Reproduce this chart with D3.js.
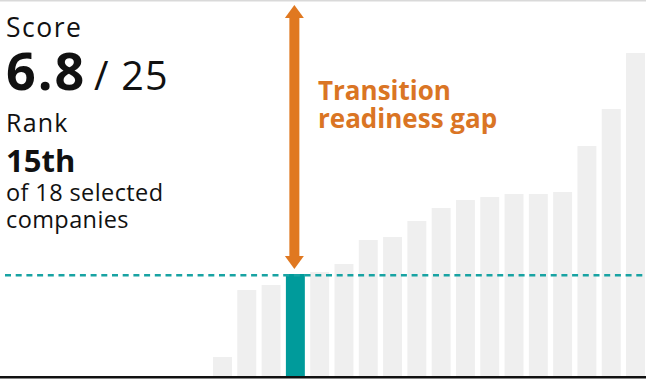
<!DOCTYPE html>
<html>
<head>
<meta charset="utf-8">
<script src="https://cdn.jsdelivr.net/npm/d3@7"></script>
<style>
  html, body { margin: 0; padding: 0; background: #fff; }
  svg { display: block; font-family: "Open Sans", "Noto Sans", sans-serif; }
</style>
</head>
<body>
<svg id="chart" width="646" height="381"></svg>
<script>
// ---- data ----
const companies = ["C1","C2","C3","C4","C5","C6","C7","C8","C9","C10","C11","C12","C13","C14","C15","C16","C17","C18"];
const scores = [1.27, 5.73, 6.07, 6.8, 6.93, 7.47, 9.07, 9.27, 10.33, 11.2, 11.73, 11.93, 12.13, 12.13, 12.27, 15.33, 17.8, 21.53];
const highlightIndex = [3];
const scoreText = ["6.8", "/ 25"];
const maxScore = [25];
const rankText = ["Rank", "15th", "of 18 selected", "companies"];
const gapLabel = ["Transition", "readiness gap"];

(function () {
const W = 646, H = 381;
const svg = d3.select("#chart");

const x = d3.scaleBand().domain(companies).range([213, 645]).paddingInner(0.22).paddingOuter(0);
const y = d3.scaleLinear().domain([0, maxScore[0]]).range([376, 1]);

// top rule
svg.append("line").attr("x1", 0).attr("x2", W).attr("y1", 0.75).attr("y2", 0.75)
  .attr("stroke", "#d9d9d9").attr("stroke-width", 1.5);

// bars
svg.append("g").selectAll("rect").data(scores).join("rect")
  .attr("x", (d, i) => x(companies[i]))
  .attr("width", x.bandwidth())
  .attr("y", d => y(d))
  .attr("height", d => y(0) - y(d))
  .attr("fill", (d, i) => highlightIndex.includes(i) ? "#009b9b" : "#efefef");

const hv = scores[highlightIndex[0]];
// dashed reference line
svg.append("line").attr("x1", 5).attr("x2", W).attr("y1", y(hv) + 1.3).attr("y2", y(hv) + 1.3)
  .attr("stroke", "#18a3a3").attr("stroke-width", 2.6).attr("stroke-dasharray", "6,4.7");

// baseline
svg.append("line").attr("x1", 0).attr("x2", W).attr("y1", y(0) + 1.2).attr("y2", y(0) + 1.2)
  .attr("stroke", "#111").attr("stroke-width", 2.5);

// gap arrow
const cx = x(companies[highlightIndex[0]]) + x.bandwidth() / 2 - 1;
const yTop = y(maxScore[0]) + 4, yBot = y(hv) - 5;
const orange = "#e07820";
const headL = 13, headW = 19, shaftW = 10;
svg.append("rect").attr("x", cx - shaftW / 2).attr("y", yTop + headL - 1).attr("width", shaftW)
  .attr("height", yBot - yTop - 2 * headL + 2).attr("fill", orange);
svg.append("path").attr("d", `M${cx},${yTop} L${cx + headW / 2},${yTop + headL} L${cx - headW / 2},${yTop + headL} Z`).attr("fill", orange);
svg.append("path").attr("d", `M${cx},${yBot} L${cx + headW / 2},${yBot - headL} L${cx - headW / 2},${yBot - headL} Z`).attr("fill", orange);

// gap label
gapLabel.forEach((t, i) => {
  svg.append("text").attr("x", 318).attr("y", 100 + i * 28).attr("fill", "#da7524")
    .attr("font-size", 26).attr("font-weight", 700).text(t);
});

// left text block
const tx = 6;
svg.append("text").attr("x", tx).attr("y", 37).attr("font-size", 26.5).attr("letter-spacing", 1.5)
  .attr("fill", "#111").text("Score");
svg.append("text").attr("x", tx).attr("y", 90).attr("font-size", 52).attr("font-weight", 700)
  .attr("letter-spacing", 2).attr("fill", "#111").text(scoreText[0]);
svg.append("text").attr("x", 94).attr("y", 90).attr("font-size", 39.5).attr("letter-spacing", 1.2)
  .attr("fill", "#111").text(scoreText[1]);
svg.append("text").attr("x", tx).attr("y", 132).attr("font-size", 25).attr("letter-spacing", 1.2)
  .attr("fill", "#111").text(rankText[0]);
svg.append("text").attr("x", tx).attr("y", 172).attr("font-size", 31).attr("font-weight", 700).attr("fill", "#111").text(rankText[1]);
svg.append("text").attr("x", tx).attr("y", 201).attr("font-size", 23.5).attr("letter-spacing", 0.4)
  .attr("fill", "#111").text(rankText[2]);
svg.append("text").attr("x", tx).attr("y", 228).attr("font-size", 23.5).attr("letter-spacing", 0.4)
  .attr("fill", "#111").text(rankText[3]);
})();
</script>
</body>
</html>
